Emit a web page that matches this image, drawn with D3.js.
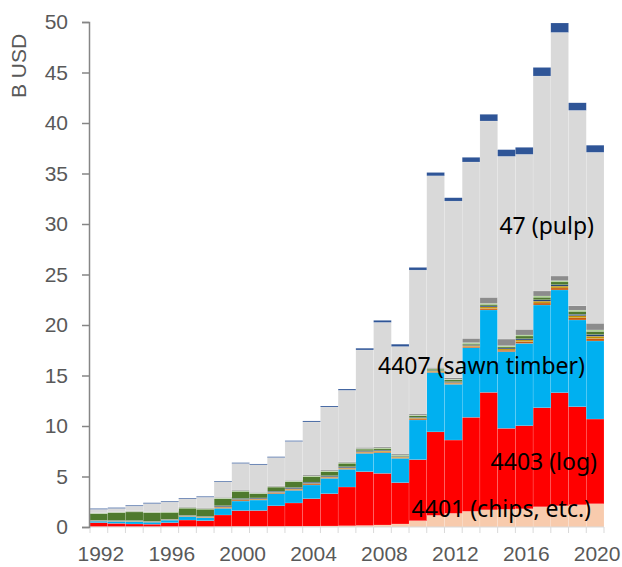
<!DOCTYPE html>
<html>
<head>
<meta charset="utf-8">
<script src="https://cdn.jsdelivr.net/npm/d3@7"></script>
<style>
  body { margin: 0; background: #fff; }
  svg text { font-family: "Liberation Sans", Arial, sans-serif; }
</style>
</head>
<body>
<div class="chart"></div>
<script>
// years on the category axis
var years = d3.range(1992, 2021);

// values in B USD (bottom layer first)
var chips  = [0.02,0.02,0.02,0.02,0.03,0.03,0.03,0.04,0.05,0.05,0.06,0.07,0.08,0.10,0.12,0.15,0.20,0.30,0.62,1.15,1.35,1.55,1.70,1.75,1.80,2.00,2.10,2.20,2.30];
var logs   = [0.41,0.34,0.28,0.26,0.40,0.66,0.60,1.15,1.57,1.58,2.04,2.31,2.72,3.20,3.84,5.33,5.11,4.09,6.05,8.27,7.26,9.31,11.63,8.02,8.23,9.81,11.20,9.71,8.39];
var sawn   = [0.15,0.20,0.25,0.20,0.25,0.35,0.30,0.66,0.95,1.04,1.20,1.25,1.36,1.52,1.75,1.81,2.05,2.41,3.93,5.88,5.52,6.89,8.16,7.59,8.15,10.17,10.17,8.59,7.73];
var oth1   = [0.03,0.03,0.03,0.03,0.03,0.04,0.04,0.10,0.10,0.08,0.08,0.10,0.10,0.10,0.10,0.10,0.10,0.08,0.10,0.08,0.10,0.12,0.15,0.15,0.18,0.20,0.20,0.22,0.25];
var oth2   = [0.03,0.03,0.03,0.03,0.03,0.04,0.04,0.06,0.06,0.05,0.06,0.06,0.06,0.06,0.06,0.08,0.08,0.06,0.08,0.06,0.08,0.10,0.15,0.12,0.16,0.18,0.18,0.20,0.22];
var oth3   = [0.03,0.03,0.03,0.03,0.03,0.04,0.04,0.10,0.10,0.08,0.10,0.12,0.12,0.10,0.10,0.08,0.08,0.06,0.08,0.06,0.08,0.08,0.10,0.10,0.12,0.14,0.14,0.14,0.16];
var oth4   = [0.64,0.76,0.85,0.84,0.67,0.70,0.71,0.69,0.69,0.42,0.41,0.57,0.55,0.40,0.34,0.16,0.15,0.08,0.15,0.13,0.18,0.12,0.15,0.12,0.27,0.25,0.28,0.29,0.32];
var oth5   = [0.06,0.06,0.06,0.06,0.06,0.06,0.06,0.06,0.06,0.05,0.05,0.06,0.06,0.06,0.06,0.06,0.06,0.05,0.06,0.05,0.06,0.08,0.10,0.10,0.10,0.12,0.12,0.12,0.14];
var oth6   = [0.05,0.05,0.05,0.05,0.05,0.06,0.06,0.08,0.08,0.08,0.08,0.08,0.10,0.10,0.10,0.12,0.12,0.10,0.12,0.12,0.15,0.43,0.60,0.66,0.56,0.50,0.46,0.43,0.66];
var pulp   = [0.33,0.32,0.47,0.80,0.92,0.81,1.07,1.53,2.63,2.73,2.80,3.85,5.25,6.24,7.07,9.64,12.31,10.64,14.25,18.97,17.49,17.46,17.46,18.09,17.33,21.28,24.12,19.35,16.93];
var paper  = [0.08,0.08,0.08,0.08,0.08,0.08,0.08,0.08,0.08,0.08,0.08,0.08,0.10,0.10,0.12,0.17,0.20,0.23,0.26,0.33,0.33,0.46,0.66,0.66,0.69,0.85,0.93,0.75,0.70];

var yTicks = d3.range(0, 51, 5);
var xLabels = [1992, 1996, 2000, 2004, 2008, 2012, 2016, 2020];

var keys = ["chips","logs","sawn","oth1","oth2","oth3","oth4","oth5","oth6","pulp","paper"];
var colors = {
	chips: "#F8CBAD", logs: "#FF0000", sawn: "#00B0F0",
	oth1: "#C55A11", oth2: "#BF9000", oth3: "#264478", oth4: "#4F7A2E",
	oth5: "#A9D18E", oth6: "#8C8C8C", pulp: "#D9D9D9", paper: "#2F5597"
};
var series = {chips: chips, logs: logs, sawn: sawn, oth1: oth1, oth2: oth2, oth3: oth3,
	oth4: oth4, oth5: oth5, oth6: oth6, pulp: pulp, paper: paper};

var rows = years.map(function(y, i) {
	var r = {year: y};
	keys.forEach(function(k) { r[k] = series[k][i]; });
	return r;
});

var width = 622, height = 567;
var svg = d3.select("div.chart").append("svg")
	.attr("width", width)
	.attr("height", height);

var x = d3.scaleBand().domain(years).range([90, 604]).padding(0);
var y = d3.scaleLinear().domain([0, 50]).range([527, 22]);

var stack = d3.stack().keys(keys);
var layers = stack(rows);

// stacked columns with no gap
svg.append("g").selectAll("g")
	.data(layers)
	.enter().append("g")
	.attr("fill", function(d) { return colors[d.key]; })
	.selectAll("rect")
	.data(function(d) { return d; })
	.enter().append("rect")
	.attr("x", function(d) { return x(d.data.year); })
	.attr("width", x.bandwidth())
	.attr("y", function(d) { return y(d[1]); })
	.attr("height", function(d) { return y(d[0]) - y(d[1]); })
	.attr("stroke", "rgba(255,255,255,0.35)")
	.attr("stroke-width", 0.4);

// x axis: light line and ticks between categories
var xg = svg.append("g");
xg.append("line")
	.attr("x1", 90).attr("x2", 604)
	.attr("y1", y(0)).attr("y2", y(0))
	.attr("stroke", "#D9D9D9").attr("stroke-width", 1);
xg.selectAll("line.tk")
	.data(d3.range(years.length + 1))
	.enter().append("line")
	.attr("class", "tk")
	.attr("x1", function(i) { return 90 + i * x.bandwidth(); })
	.attr("x2", function(i) { return 90 + i * x.bandwidth(); })
	.attr("y1", y(0)).attr("y2", y(0) + 6)
	.attr("stroke", "#D9D9D9").attr("stroke-width", 1);
xg.selectAll("text")
	.data(xLabels)
	.enter().append("text")
	.attr("x", function(d) { return x(d) + x.bandwidth() / 2 + 2; })
	.attr("y", 561)
	.attr("text-anchor", "middle")
	.attr("font-size", "21px")
	.attr("fill", "#595959")
	.text(function(d) { return d; });

// y axis
var yAxis = d3.axisLeft(y).tickValues(yTicks).tickSize(7).tickPadding(14);
var yg = svg.append("g")
	.attr("transform", "translate(89,0)")
	.call(yAxis);
yg.select(".domain").attr("stroke", "#868686").attr("stroke-width", 1.5);
yg.selectAll(".tick line").attr("stroke", "#868686").attr("stroke-width", 1.5);
yg.selectAll(".tick text")
	.attr("font-size", "21px")
	.attr("fill", "#595959")
	.attr("font-family", "Liberation Sans, Arial, sans-serif");

svg.append("text")
	.attr("transform", "translate(26,66) rotate(-90)")
	.attr("text-anchor", "middle")
	.attr("font-size", "21px")
	.attr("fill", "#595959")
	.text("B USD");

// labels on the layers
var notes = [
	{t: "47 (pulp)", x: 594, y: 234},
	{t: "4407 (sawn timber)", x: 585, y: 374},
	{t: "4403 (log)", x: 597, y: 470},
	{t: "4401 (chips, etc.)", x: 591, y: 517}
];
svg.selectAll("text.note")
	.data(notes)
	.enter().append("text")
	.attr("class", "note")
	.attr("x", function(d) { return d.x; })
	.attr("y", function(d) { return d.y; })
	.attr("text-anchor", "end")
	.attr("font-size", "23px")
	.attr("fill", "#000")
	.style("font-family", "'Noto Sans', 'Open Sans', sans-serif")
	.text(function(d) { return d.t; });
</script>
</body>
</html>
